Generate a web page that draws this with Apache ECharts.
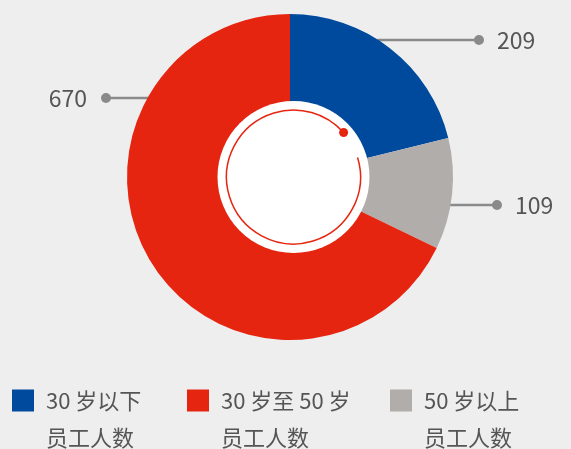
<!DOCTYPE html>
<html>
<head>
<meta charset="utf-8">
<script src="https://cdn.jsdelivr.net/npm/echarts@6/dist/echarts.min.js"></script>
<style>
  html, body { margin: 0; padding: 0; background: #eeeeee; }
  #chart { width: 571px; height: 449px; }
</style>
</head>
<body>
<div id="chart"></div>
<script>
// 数据
const names = ["30 岁以下\n员工人数", "50 岁以上\n员工人数", "30 岁至 50 岁\n员工人数"];
const values = [209, 109, 670];
const colors = ["#004a9e", "#b0adab", "#e62511"];

// 标签引出线位置（y 坐标、圆点 x 坐标）
const labelY = [40, 205, 98];
const dotX = [479, 497, 106];

const CX = 290, CY = 177, R = 163;
const IN_CX = 293.5, IN_CY = 177;
const deg = Math.PI / 180;

const chart = echarts.init(document.getElementById("chart"));

const legendBase = {
  orient: "horizontal",
  top: 345,
  padding: 0,
  itemWidth: 22,
  itemHeight: 22,
  icon: "rect",
  selectedMode: false,
  // 首行与色块对齐：前面补一空行
  formatter: (name) => "\n" + name,
  textStyle: {
    fontFamily: "Noto Sans CJK SC",
    fontSize: 22,
    color: "#555",
    lineHeight: 37,
    padding: [0, 0, 0, 7]
  }
};

const option = {
  backgroundColor: "#eeeeee",
  animation: false,
  legend: [
    Object.assign({}, legendBase, { left: 12, data: [names[0]] }),
    Object.assign({}, legendBase, { left: 187, data: [names[2]] }),
    Object.assign({}, legendBase, { left: 390, data: [names[1]] })
  ],
  series: [
    {
      type: "pie",
      center: [CX, CY],
      radius: [68, R],
      startAngle: 90,
      avoidLabelOverlap: false,
      emphasis: { disabled: true },
      data: names.map((n, i) => ({ name: n, value: values[i], itemStyle: { color: colors[i] } })),
      label: {
        show: true,
        position: "outside",
        formatter: (p) => {
          return dotX[p.dataIndex] > CX ? "{dot|}{val|" + p.value + "}" : "{val|" + p.value + "}{dot|}";
        },
        rich: {
          dot: { width: 10, height: 10, borderRadius: 5, backgroundColor: "#8a8a8a" },
          val: { fontFamily: "Noto Sans CJK SC", fontSize: 23, color: "#555", padding: [0, 14, 0, 13] }
        }
      },
      labelLine: {
        show: true,
        smooth: false,
        lineStyle: { color: "#8a8a8a", width: 2.5 }
      },
      labelLayout: (params) => {
        const i = params.dataIndex;
        const y = labelY[i];
        const side = dotX[i] > CX ? 1 : -1;
        const edgeX = CX + side * Math.sqrt(R * R - (y - CY) * (y - CY)) - side;
        return {
          x: dotX[i] - side * 5,
          y: y,
          align: side > 0 ? "left" : "right",
          verticalAlign: "middle",
          labelLinePoints: [[edgeX, y], [dotX[i], y], [dotX[i], y]]
        };
      }
    },
    {
      // 中心白色圆
      type: "pie",
      center: [IN_CX, IN_CY],
      radius: [0, 76],
      silent: true,
      label: { show: false },
      labelLine: { show: false },
      emphasis: { disabled: true },
      data: [{ name: "", value: 1, itemStyle: { color: "#ffffff" } }]
    }
  ],
  graphic: [
    {
      type: "arc",
      z: 100,
      shape: { cx: IN_CX, cy: IN_CY, r: 67, startAngle: -17 * deg, endAngle: (360 - 41.6) * deg, clockwise: true },
      style: { stroke: "#e62511", lineWidth: 1.5, fill: null }
    },
    {
      type: "circle",
      z: 100,
      shape: { cx: IN_CX + 67 * Math.cos(41.6 * deg), cy: IN_CY - 67 * Math.sin(41.6 * deg), r: 4.5 },
      style: { fill: "#e62511" }
    }
  ]
};

chart.setOption(option);
</script>
</body>
</html>
